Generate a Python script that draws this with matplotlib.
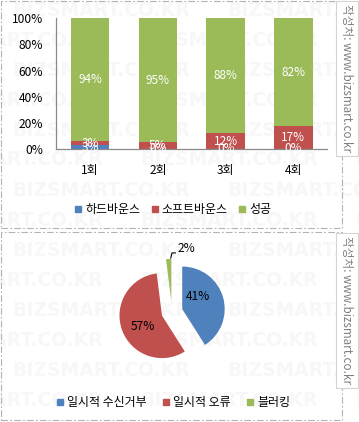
import matplotlib
matplotlib.use("Agg")
import matplotlib.pyplot as plt
from matplotlib.lines import Line2D
from matplotlib.patches import Rectangle

plt.rcParams['font.family'] = ['Noto Sans CJK KR', 'DejaVu Sans']

# bar chart data (percent of sends)
rounds = ['1회', '2회', '3회', '4회']
hard_bounce = [3, 0, 0, 0.1]
soft_bounce = [3, 5, 12, 17.45]
success = [94, 95, 88, 82.45]
bar_series = ['하드바운스', '소프트바운스', '성공']

# pie chart data
pie_labels = ['일시적 수신거부', '일시적 오류', '블러킹']
pie_values = [41, 57, 2]

colors = ['#4F81BD', '#C0504D', '#9BBB59']
W, H = 359, 422


def fx(px):
    return px / W


def fy(py):
    return 1 - py / H


fig = plt.figure(figsize=(W / 100, H / 100), dpi=100)
fig.patch.set_facecolor('white')

# faint tiled watermark
for i in range(14):
    yy = 10 + 30 * i
    off = 12 if i % 2 == 0 else -75
    for k in range(3):
        fig.text(fx(off + 215 * k), fy(yy), 'BIZSMART.CO.KR', family='DejaVu Sans',
                 fontweight='bold', fontsize=13.5, color='#f7f7f7',
                 ha='left', va='center', zorder=-5)

# panel borders
for (x0, y0, x1, y1) in [(1, 1, 342, 228), (1, 232, 342, 420)]:
    fig.patches.append(Rectangle((fx(x0), fy(y1)), fx(x1 - x0), (y1 - y0) / H,
                                 transform=fig.transFigure, fill=False,
                                 edgecolor='#b3b3b3', lw=0.8,
                                 linestyle=(0, (6, 2, 1.5, 2)), zorder=-1))

# source boxes
for (y0, y1) in [(1, 156), (233, 388)]:
    fig.patches.append(Rectangle((fx(336), fy(y1)), fx(22), (y1 - y0) / H,
                                 transform=fig.transFigure, facecolor='white',
                                 edgecolor='#d4d4d4', lw=0.8, zorder=1))
    fig.text(fx(347), fy((y0 + y1) / 2), '작성처: www.bizsmart.co.kr', rotation=-90,
             ha='center', va='center', fontsize=8.4, color='#7f7f7f', zorder=2)

# ---- stacked bar chart ----
ax = fig.add_axes([fx(56.2), fy(149), fx(327.3 - 56.2), (149 - 18.3) / H])
ax.set_facecolor('none')
x = list(range(len(rounds)))
bottom = [0] * len(rounds)
for name, vals, c in zip(bar_series, [hard_bounce, soft_bounce, success], colors):
    ax.bar(x, vals, bottom=bottom, color=c, width=0.565, label=name, zorder=2)
    for xi, v, b in zip(x, vals, bottom):
        ax.text(xi, b + v / 2, f'{v:.0f}%', ha='center', va='center',
                color='white', fontsize=8.5, zorder=3)
    bottom = [b + v for b, v in zip(bottom, vals)]

ax.set_xlim(-0.5, len(rounds) - 0.5)
ax.set_ylim(0, 100)
ax.set_yticks(range(0, 101, 20))
ax.set_yticklabels([f'{t}%' for t in range(0, 101, 20)])
ax.set_xticks(x)
ax.set_xticklabels(rounds)
ax.tick_params(axis='y', length=0, pad=9.5, labelsize=8.6, labelcolor='black')
ax.tick_params(axis='x', length=0, pad=11, labelsize=8.6, labelcolor='black')
for s in ['top', 'right']:
    ax.spines[s].set_visible(False)
for s in ['left', 'bottom']:
    ax.spines[s].set_color('#898989')
    ax.spines[s].set_linewidth(0.9)

handles = [Line2D([], [], marker='s', ls='', color=c, markersize=4.6) for c in colors]
fig.legend(handles, bar_series, loc='center', bbox_to_anchor=(fx(173), fy(210)),
           ncol=3, frameon=False, fontsize=8.6, handlelength=0.6, handletextpad=0.3,
           columnspacing=0.9, borderpad=0)

# ---- exploded pie ----
pax = fig.add_axes([fx(100), fy(384), fx(144), 144 / H])
pax.pie(pie_values, colors=colors, startangle=90, counterclock=False,
        explode=[0.25] * 3, radius=1.0, wedgeprops=dict(linewidth=0))
lim = 72 / 42.5
pax.set_xlim(-lim, lim)
pax.set_ylim(-lim, lim)
pax.set_aspect('equal')
pax.axis('off')
label_pos = [(0.61, 0.376), (-0.68, -0.35), (0.33, 1.5)]
for (lx, ly), v in zip(label_pos, pie_values):
    pax.text(lx, ly, f'{v}%', ha='center', va='center', fontsize=8.6, color='black')
pax.plot([-0.03, 0.0, 0.08], [1.27, 1.39, 1.39], color='black', lw=0.8)

fig.legend(handles, pie_labels, loc='center', bbox_to_anchor=(fx(173.5), fy(402.7)),
           ncol=3, frameon=False, fontsize=8.6, handlelength=0.6, handletextpad=0.3,
           columnspacing=1.3, borderpad=0)

fig.savefig('out.png', dpi=100, facecolor='white')
